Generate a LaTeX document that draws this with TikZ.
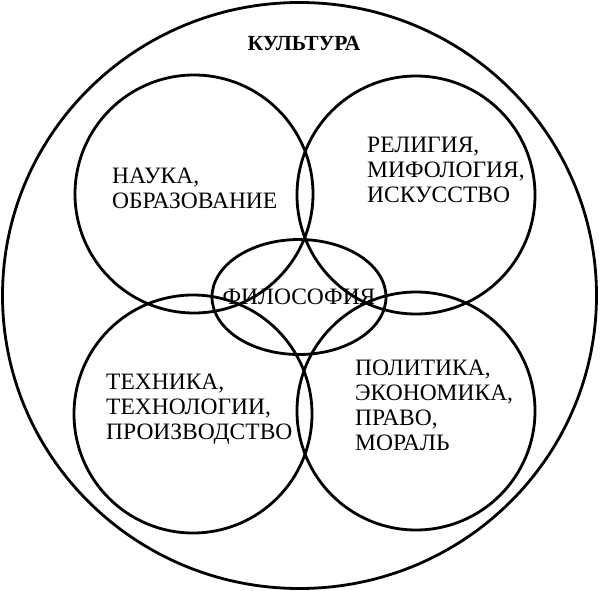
\documentclass[tikz,border=0pt]{standalone}
\usepackage{fontspec}
\setmainfont{Liberation Serif}
\usepackage{tikz}
\usetikzlibrary{shapes.geometric, positioning}

\begin{document}
\begin{tikzpicture}[
  x=1pt, y=-1pt,
  ring/.style={circle, draw, line width=2.8pt, minimum size=238pt,
    inner sep=0pt},
  oval/.style={ellipse, draw, line width=2.8pt, inner sep=0pt},
  lbl/.style={font=\fontsize{23.5}{25}\selectfont, align=left,
    inner sep=0pt, anchor=west},
  ttl/.style={font=\fontsize{21.5}{24}\selectfont\bfseries, inner sep=0pt}
]
  \useasboundingbox (0,0) rectangle (600,591);
  % outer ring
  \node[oval, minimum width=594pt, minimum height=586pt] (kult) at (299.5,295.5) {};
  % four spheres
  \node[ring] (nauka)   at (194,194) {};
  \node[ring] (relig)   at (416,195) {};
  \node[ring] (tehn)    at (193,414) {};
  \node[ring] (polit)   at (416,411) {};
  % philosophy in the middle
  \node[oval, minimum width=174pt, minimum height=115pt] (filos) at (299,297) {};
  % Labels
  \node[ttl] (kultlbl) at (304,44) {КУЛЬТУРА};
  \node[lbl] (nauklbl) at (112,188) {НАУКА,\\ОБРАЗОВАНИЕ};
  \node[lbl] (religlbl) at (367,170) {РЕЛИГИЯ,\\МИФОЛОГИЯ,\\ИСКУССТВО};
  \node[lbl] (tehnlbl) at (106,409) {ТЕХНИКА,\\ТЕХНОЛОГИИ,\\ПРОИЗВОДСТВО};
  \node[lbl] (politlbl) at (355,405) {ПОЛИТИКА,\\ЭКОНОМИКА,\\ПРАВО,\\МОРАЛЬ};
  \node[font=\fontsize{23.5}{25}\selectfont, inner sep=0pt] (filoslbl) at (filos) {ФИЛОСОФИЯ};
\end{tikzpicture}
\end{document}
